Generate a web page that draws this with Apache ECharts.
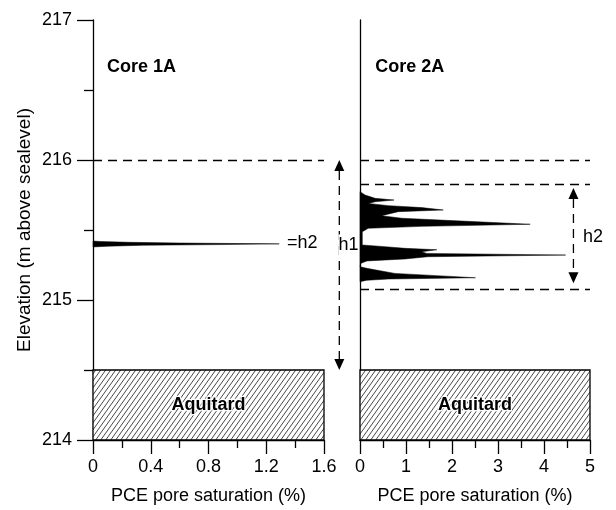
<!DOCTYPE html>
<html><head><meta charset="utf-8">
<script src="https://cdn.jsdelivr.net/npm/echarts@6/dist/echarts.min.js"></script>
<style>html,body{margin:0;padding:0;background:#fff}#c{width:616px;height:510px}</style>
</head><body><div id="c"></div>
<script>
// ---- data ----
const elevTicks = [214, 215, 216, 217];
const core1Ticks = [0, 0.4, 0.8, 1.2, 1.6];
const core2Ticks = [0, 1, 2, 3, 4, 5];

// Core 1A PCE profile (elevation m, saturation %)
const core1Elev = [215.421, 215.418, 215.412, 215.407, 215.401, 215.396, 215.391, 215.384, 215.379];
const core1Sat  = [0,       0.05,    0.25,    0.6,     1.29,    0.9,     0.35,    0.1,     0];

// Core 2A PCE profile
const core2Elev = [215.774, 215.75, 215.726, 215.714, 215.702, 215.69, 215.674, 215.66, 215.643, 215.631,
                   215.602, 215.584, 215.564, 215.541, 215.526, 215.512, 215.488, 215.44, 215.393, 215.379,
                   215.369, 215.359, 215.345, 215.333, 215.321, 215.309, 215.293, 215.279, 215.262, 215.238,
                   215.226, 215.207, 215.19, 215.174, 215.159, 215.15, 215.141, 215.131];
const core2Sat  = [0, 0.11, 0.33, 0.74, 0.33, 0.18, 0.62, 1.34, 1.81, 0.83,
                   0.47, 0.91, 2.21, 3.70, 1.34, 0.18, 0.05, 0.05, 0.05, 0.62,
                   0.98, 1.67, 1.34, 1.45, 4.47, 1.47, 0.98, 0.15, 0.02, 0,
                   0.15, 0.47, 0.76, 1.67, 2.51, 0.62, 0.15, 0];

const aquitardRange = [214, 214.5];
const core1Lines = [216];
const core2Lines = [216, 215.83, 215.08];
const h1Range = [216, 214.5];
const h2Range = [215.80, 215.12];
const core1Max = 1.6, core2Max = 5;

// ---- chart ----
const FONT = '"Liberation Sans", Arial, Helvetica, sans-serif';
const chart = echarts.init(document.getElementById('c'));

function hatchPattern() {
  const c = document.createElement('canvas');
  const a = 5, b = 7;
  c.width = a; c.height = b;
  const g = c.getContext('2d');
  g.fillStyle = '#fff'; g.fillRect(0, 0, a, b);
  g.strokeStyle = '#333'; g.lineWidth = 0.9;
  g.beginPath();
  g.moveTo(-a, b); g.lineTo(0, 0);
  g.moveTo(0, b); g.lineTo(a, 0);
  g.moveTo(a, b); g.lineTo(2 * a, 0);
  g.stroke();
  return {image: c, repeat: 'repeat'};
}
const hatch = hatchPattern();

function profileRender(elev, sat) {
  return function (params, api) {
    if (params.dataIndex !== 0) return null;
    const pts = [api.coord([0, elev[0]])];
    for (let i = 0; i < elev.length; i++) pts.push(api.coord([sat[i], elev[i]]));
    pts.push(api.coord([0, elev[elev.length - 1]]));
    return {type: 'polygon', shape: {points: pts}, style: {fill: '#000', stroke: '#000', lineWidth: 0.5}};
  };
}

function aquitardRender(xmax) {
  return function (params, api) {
    const p1 = api.coord([0, aquitardRange[1]]);
    const p2 = api.coord([xmax, aquitardRange[0]]);
    const c = api.coord([xmax / 2, (aquitardRange[0] + aquitardRange[1]) / 2]);
    return {type: 'group', children: [
      {type: 'rect', shape: {x: p1[0], y: p1[1], width: p2[0] - p1[0], height: p2[1] - p1[1]},
       style: {fill: hatch, stroke: '#000', lineWidth: 1.3}},
      {type: 'text', x: c[0], y: c[1],
       style: {text: 'Aquitard', fontSize: 18, fontWeight: 'bold', fontFamily: FONT, fill: '#000',
               align: 'center', verticalAlign: 'middle', stroke: '#fff', lineWidth: 2.5}}
    ]};
  };
}

function arrowRender(x, range) {
  return function (params, api) {
    const p1 = api.coord([x, range[0]]);
    const p2 = api.coord([x, range[1]]);
    const h = 11, w = 5;
    return {type: 'group', children: [
      {type: 'line', shape: {x1: p1[0], y1: p1[1] + h, x2: p2[0], y2: p2[1] - h},
       style: {stroke: '#000', lineWidth: 1.3, lineDash: [9, 6]}},
      {type: 'polygon', shape: {points: [[p1[0], p1[1]], [p1[0] - w, p1[1] + h], [p1[0] + w, p1[1] + h]]}, style: {fill: '#000'}},
      {type: 'polygon', shape: {points: [[p2[0], p2[1]], [p2[0] - w, p2[1] - h], [p2[0] + w, p2[1] - h]]}, style: {fill: '#000'}}
    ]};
  };
}

function textRender(items) {
  return function (params, api) {
    if (params.dataIndex !== 0) return null;
    return {type: 'group', children: items.map(t => {
      const p = api.coord([t.x, t.y]);
      const st = {text: t.text, fontSize: t.bold ? 18 : 18, fontWeight: t.bold ? 'bold' : 'normal',
                fontFamily: FONT, fill: '#000', align: t.align || 'left', verticalAlign: 'middle'};
      if (t.bg) { st.backgroundColor = '#fff'; st.padding = [2, 0, 2, 0]; }
      return {type: 'text', x: p[0], y: p[1], z2: 10, style: st};
    })};
  };
}

const core1Texts = [
  {text: 'Core 1A', x: 0.097, y: 216.665, bold: true},
  {text: '=h2', x: 1.344, y: 215.41},
  {text: 'h1', x: 1.70, y: 215.39, bg: true}
];
const core2Texts = [
  {text: 'Core 2A', x: 0.33, y: 216.665, bold: true},
  {text: 'h2', x: 4.85, y: 215.45}
];

function xAxisCfg(gi, max, interval) {
  return {type: 'value', gridIndex: gi, min: 0, max: max, interval: interval,
    name: 'PCE pore saturation (%)', nameLocation: 'middle', nameGap: 47,
    nameTextStyle: {fontSize: 18, color: '#000', fontFamily: FONT},
    axisLine: {show: true, onZero: false, lineStyle: {color: '#000', width: 1.3}},
    axisTick: {show: true, length: 14, lineStyle: {color: '#000', width: 1.3}},
    minorTick: {show: true, splitNumber: 2, length: 8, lineStyle: {color: '#000', width: 1.3}},
    axisLabel: {margin: 18, fontSize: 18, color: '#000', fontFamily: FONT,
      formatter: v => String(+(+v).toFixed(1))},
    splitLine: {show: false}, minorSplitLine: {show: false}};
}

const dashLine = {type: [9, 6], color: '#000', width: 1.3};
function markLines(vals) {
  return {silent: true, symbol: ['none', 'none'], label: {show: false}, lineStyle: dashLine,
          emphasis: {disabled: true}, animation: false, data: vals.map(v => ({yAxis: v}))};
}

chart.setOption({
  animation: false,
  backgroundColor: '#fff',
  grid: [
    {left: 93, top: 20, width: 231, height: 420, outerBoundsMode: 'none', containLabel: false},
    {left: 360, top: 20, width: 230, height: 420, outerBoundsMode: 'none', containLabel: false}
  ],
  xAxis: [xAxisCfg(0, core1Max, 0.4), xAxisCfg(1, core2Max, 1)],
  yAxis: [
    {type: 'value', gridIndex: 0, min: elevTicks[0], max: elevTicks[elevTicks.length - 1], interval: 1,
     name: 'Elevation (m above sealevel)', nameLocation: 'middle', nameGap: 59, nameRotate: 90,
     nameTextStyle: {fontSize: 19, color: '#000', fontFamily: FONT},
     axisLine: {show: true, onZero: false, lineStyle: {color: '#000', width: 1.3}},
     axisTick: {show: true, length: 16, lineStyle: {color: '#000', width: 1.3}},
     minorTick: {show: true, splitNumber: 2, length: 9, lineStyle: {color: '#000', width: 1.3}},
     axisLabel: {margin: 21, fontSize: 18, color: '#000', fontFamily: FONT},
     splitLine: {show: false}, minorSplitLine: {show: false}},
    {type: 'value', gridIndex: 1, min: elevTicks[0], max: elevTicks[elevTicks.length - 1], interval: 1,
     axisLine: {show: true, onZero: false, lineStyle: {color: '#000', width: 1.3}},
     axisTick: {show: false}, axisLabel: {show: false}, splitLine: {show: false}}
  ],
  series: [
    {type: 'custom', name: 'Core 1A', xAxisIndex: 0, yAxisIndex: 0, silent: true,
     data: core1Elev.map((e, i) => [core1Sat[i], e]), renderItem: profileRender(core1Elev, core1Sat),
     markLine: markLines(core1Lines)},
    {type: 'custom', name: 'Core 2A', xAxisIndex: 1, yAxisIndex: 1, silent: true,
     data: core2Elev.map((e, i) => [core2Sat[i], e]), renderItem: profileRender(core2Elev, core2Sat),
     markLine: markLines(core2Lines)},
    {type: 'custom', xAxisIndex: 0, yAxisIndex: 0, silent: true, z: 1,
     data: [[core1Max, aquitardRange[0]]], renderItem: aquitardRender(core1Max)},
    {type: 'custom', xAxisIndex: 1, yAxisIndex: 1, silent: true, z: 1,
     data: [[core2Max, aquitardRange[0]]], renderItem: aquitardRender(core2Max)},
    {type: 'custom', xAxisIndex: 0, yAxisIndex: 0, silent: true, clip: false,
     data: [[1.706, h1Range[0]]], renderItem: arrowRender(1.706, h1Range)},
    {type: 'custom', xAxisIndex: 1, yAxisIndex: 1, silent: true, clip: false,
     data: [[4.64, h2Range[0]]], renderItem: arrowRender(4.64, h2Range)},
    {type: 'custom', xAxisIndex: 0, yAxisIndex: 0, silent: true, clip: false, z: 5,
     data: [[0, 216.68]], renderItem: textRender(core1Texts)},
    {type: 'custom', xAxisIndex: 1, yAxisIndex: 1, silent: true, clip: false, z: 5,
     data: [[0, 216.68]], renderItem: textRender(core2Texts)}
  ]
});
</script>
</body></html>
